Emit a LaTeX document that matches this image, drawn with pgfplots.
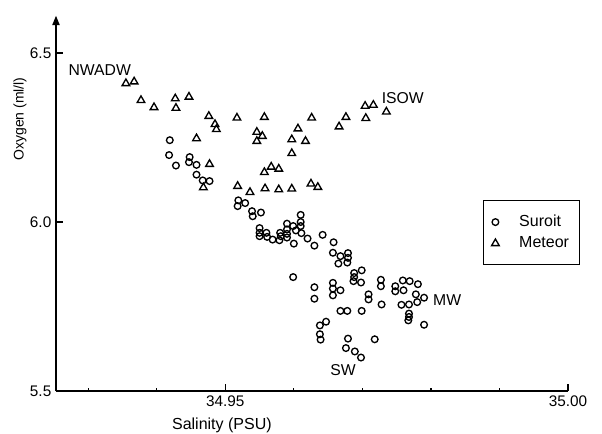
\documentclass[border=0pt]{standalone}
\usepackage{fontspec}
\setmainfont{Liberation Sans}
\usepackage{pgfplots}
\pgfplotsset{compat=1.18}
\usetikzlibrary{arrows.meta}

% Suroit stations: salinity (PSU), oxygen (ml/l)
\pgfplotstableread{
sal     oxy
34.9419 6.242
34.9418 6.198
34.9428 6.167
34.9448 6.192
34.9447 6.177
34.9458 6.169
34.9458 6.140
34.9467 6.123
34.9477 6.121
34.9519 6.064
34.9529 6.056
34.9518 6.047
34.9539 6.032
34.9552 6.028
34.9540 6.017
34.9550 5.982
34.9550 5.968
34.9550 5.958
34.9560 5.968
34.9561 5.956
34.9569 5.948
34.9580 5.968
34.9581 5.958
34.9579 5.946
34.9590 5.995
34.9590 5.978
34.9590 5.965
34.9590 5.954
34.9599 5.988
34.9600 5.936
34.9603 5.975
34.9610 6.021
34.9610 6.000
34.9610 5.988
34.9611 5.967
34.9620 5.951
34.9630 5.930
34.9642 5.962
34.9599 5.837
34.9630 5.807
34.9630 5.773
34.9658 5.940
34.9657 5.909
34.9668 5.899
34.9679 5.908
34.9679 5.894
34.9678 5.880
34.9665 5.877
34.9688 5.849
34.9688 5.837
34.9687 5.825
34.9699 5.857
34.9698 5.821
34.9657 5.820
34.9657 5.803
34.9657 5.783
34.9668 5.798
34.9709 5.786
34.9709 5.771
34.9727 5.829
34.9727 5.810
34.9728 5.756
34.9668 5.737
34.9678 5.737
34.9699 5.737
34.9748 5.810
34.9748 5.795
34.9759 5.827
34.9769 5.825
34.9760 5.798
34.9781 5.816
34.9778 5.786
34.9790 5.776
34.9780 5.763
34.9757 5.755
34.9768 5.756
34.9768 5.729
34.9768 5.719
34.9767 5.709
34.9790 5.696
34.9638 5.694
34.9647 5.705
34.9638 5.668
34.9639 5.652
34.9679 5.655
34.9718 5.653
34.9676 5.627
34.9689 5.617
34.9698 5.599
}\suroit

% Meteor stations: salinity (PSU), oxygen (ml/l)
\pgfplotstableread{
sal     oxy
34.9355 6.410
34.9367 6.415
34.9377 6.360
34.9396 6.339
34.9427 6.365
34.9428 6.337
34.9447 6.370
34.9476 6.313
34.9485 6.289
34.9487 6.274
34.9458 6.247
34.9517 6.308
34.9557 6.310
34.9626 6.308
34.9546 6.266
34.9554 6.254
34.9546 6.239
34.9606 6.276
34.9597 6.244
34.9617 6.239
34.9597 6.203
34.9477 6.171
34.9468 6.102
34.9557 6.147
34.9567 6.163
34.9578 6.157
34.9518 6.106
34.9536 6.088
34.9558 6.099
34.9578 6.096
34.9597 6.098
34.9625 6.113
34.9635 6.103
34.9666 6.282
34.9676 6.310
34.9704 6.343
34.9716 6.346
34.9705 6.307
34.9735 6.326
}\meteor

\begin{document}
\begin{tikzpicture}
\useasboundingbox (-42pt,-31.5pt) rectangle (409.5pt,293.25pt);
\begin{axis}[
  at={(0pt,0pt)}, anchor=south west,
  scale only axis,
  width=384pt, height=281.4pt,
  xmin=34.9253, xmax=35.0,
  ymin=5.5, ymax=6.61,
  clip=false,
  axis lines=left,
  axis line style={line width=0.9pt, black},
  x axis line style={-},
  y axis line style={-{Triangle[length=7pt,width=5.5pt]}},
  xtick={34.95,35.00},
  minor xtick={34.93,34.94,34.96,34.97,34.98,34.99},
  ytick={5.5,6.0,6.5},
  tick align=inside,
  major tick length=5.5pt,
  minor tick length=2.6pt,
  tick style={line width=0.9pt, black},
  /pgf/number format/assume math mode=true,
  tick label style={font=\fontsize{11.5}{13}\selectfont},
  xticklabel style={/pgf/number format/.cd, fixed, precision=2, zerofill},
  yticklabel style={/pgf/number format/.cd, fixed, precision=1, zerofill},
  xlabel={Salinity (PSU)},
  xlabel style={at={(rel axis cs:0.324,-0.0906)}, anchor=center,
    font=\fontsize{12}{14}\selectfont},
  ylabel={Oxygen (ml/l)},
  ylabel style={at={(rel axis cs:-0.0703,0.725)}, anchor=center,
    font=\fontsize{10.5}{12}\selectfont},
  legend style={at={(rel axis cs:0.834,0.509)}, anchor=north west,
    draw=black, line width=0.9pt,
    nodes={font=\fontsize{12}{14}\selectfont},
    row sep=2pt, inner xsep=6pt, inner ysep=9pt,
    /tikz/every odd column/.append style={column sep=13pt}},
  legend cell align=left,
]
\addplot[only marks, mark=o, mark size=2.5pt,
  mark options={line width=1pt, black}] table[x=sal, y=oxy] {\suroit};
\addlegendentry{Suroit}
\addplot[only marks, mark=triangle, mark size=3.3pt,
  mark options={line width=1pt, black}] table[x=sal, y=oxy] {\meteor};
\addlegendentry{Meteor}

\node[anchor=west, inner sep=0pt, font=\fontsize{11.8}{14}\selectfont]
  at (axis cs:34.9271,6.450) {NWADW};
\node[anchor=west, inner sep=0pt, font=\fontsize{11.8}{14}\selectfont]
  at (axis cs:34.9728,6.366) {ISOW};
\node[anchor=west, inner sep=0pt, font=\fontsize{11.8}{14}\selectfont]
  at (axis cs:34.9803,5.769) {MW};
\node[anchor=west, inner sep=0pt, font=\fontsize{11.8}{14}\selectfont]
  at (axis cs:34.9653,5.562) {SW};
\end{axis}
\end{tikzpicture}
\end{document}
